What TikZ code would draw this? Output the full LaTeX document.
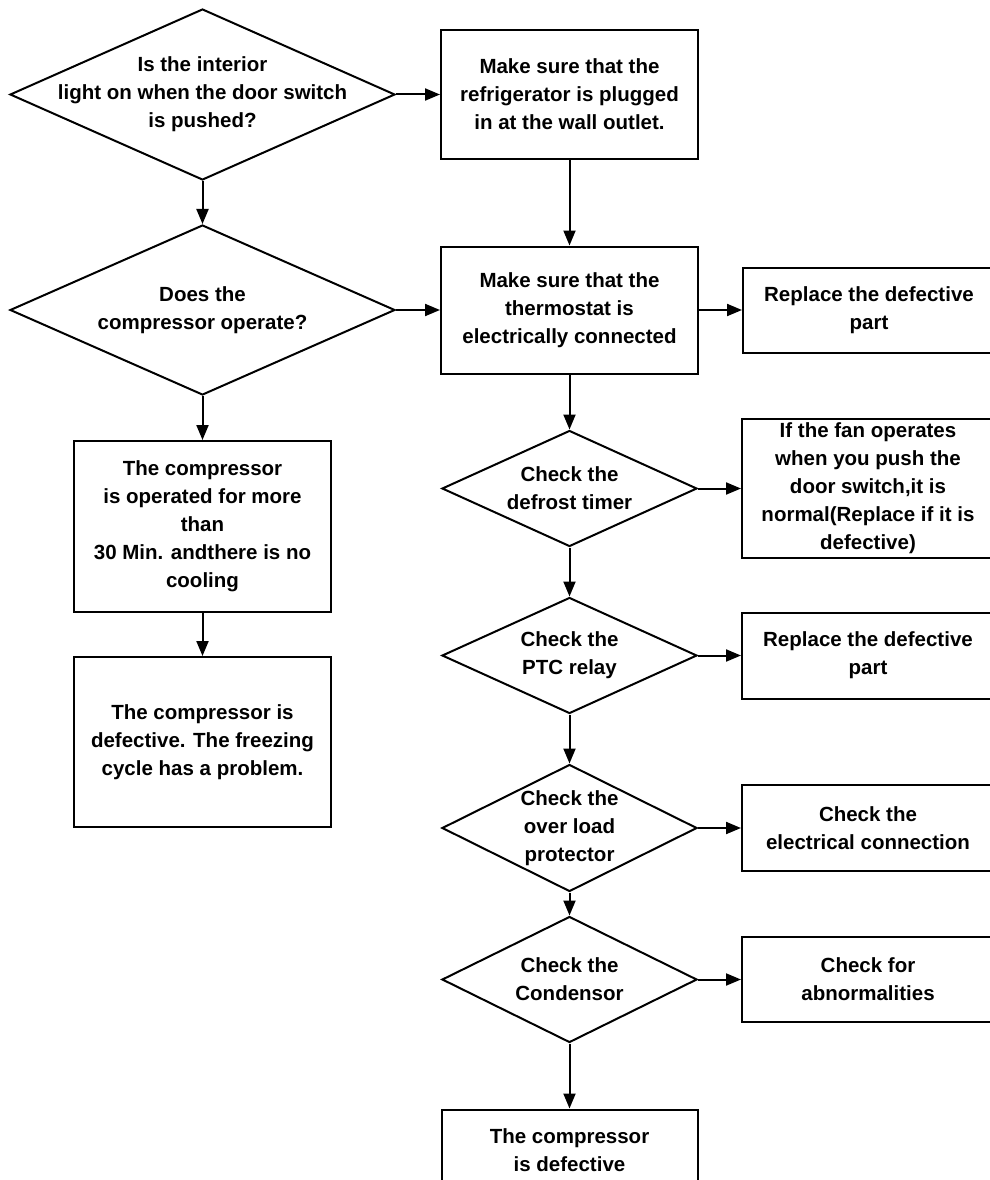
\documentclass[tikz,border=0pt]{standalone}
\usepackage{fontspec}
\setmainfont{Liberation Sans}
\usetikzlibrary{positioning,shapes.geometric,arrows.meta}

\tikzset{
  txt/.style={align=center, font=\bfseries\fontsize{20.5}{28}\selectfont},
  dia/.style={diamond, draw, line width=2pt, inner sep=0pt},
  box/.style={rectangle, draw, line width=2pt, inner sep=0pt, txt},
  arr/.style={line width=2pt, -{Triangle[length=15pt,width=12pt]}}
}

\begin{document}
\begin{tikzpicture}[x=1pt,y=-1pt]

  \useasboundingbox (0,0) rectangle (990,1180);

  \node[dia, minimum width=385pt, minimum height=171pt,
    label={[txt]center:{Is the interior\\light on when the door switch\\is pushed?}}]
    at (202.5,94.5) (light){};

  \node[box, right=44pt of light, minimum width=257pt, minimum height=128pt] (plug)
    {Make sure that the\\refrigerator is plugged\\in at the wall outlet.};

  \node[dia, below=43pt of light, minimum width=385pt, minimum height=170pt,
    label={[txt]center:{Does the\\compressor operate?}}] (comp_op){};

  \node[box, right=44pt of comp_op, minimum width=257pt, minimum height=127pt] (thermo)
    {Make sure that the\\thermostat is\\electrically connected};
  \node[box, right=43pt of thermo, minimum width=252pt, minimum height=85pt] (replace_1)
    {Replace the defective\\part};

  \node[box, below=44pt of comp_op, minimum width=257pt, minimum height=171pt] (cooling)
    {The compressor\\is operated for more\\than\\30 Min. andthere is no\\cooling};
  \node[box, below=43pt of cooling, minimum width=257pt, minimum height=170pt] (comp_def)
    {The compressor is\\defective. The freezing\\cycle has a problem.};

  \node[dia, below=55pt of thermo, minimum width=255pt, minimum height=116pt,
    label={[txt]center:{Check the\\defrost timer}}] (defrost){};
  \node[box, right=43pt of defrost, minimum width=252pt, minimum height=139pt] (fan)
    {If the fan operates\\when you push the\\door switch,it is\\normal(Replace if it is\\defective)};

  \node[dia, below=49pt of defrost, minimum width=255pt, minimum height=116pt,
    label={[txt]center:{Check the\\PTC relay}}] (ptc){};
  \node[box, right=43pt of ptc, minimum width=252pt, minimum height=86pt] (replace_2)
    {Replace the defective\\part};

  \node[dia, below=49pt of ptc, minimum width=255pt, minimum height=127pt,
    label={[txt]center:{Check the\\over load\\protector}}] (overload){};
  \node[box, right=43pt of overload, minimum width=252pt, minimum height=86pt] (elec)
    {Check the\\electrical connection};

  \node[dia, below=23pt of overload, minimum width=255pt, minimum height=126pt,
    label={[txt]center:{Check the\\Condensor}}] (condensor){};
  \node[box, right=43pt of condensor, minimum width=252pt, minimum height=85pt] (abnormal)
    {Check for\\abnormalities};

  \node[box, below=65pt of condensor, minimum width=256pt, minimum height=82pt] (comp_def_2)
    {The compressor\\is defective};

  \draw[arr] (light) -- (plug);
  \draw[arr] (light) -- (comp_op);
  \draw[arr] (plug) -- (thermo);
  \draw[arr] (comp_op) -- (thermo);
  \draw[arr] (thermo) -- (replace_1);
  \draw[arr] (comp_op) -- (cooling);
  \draw[arr] (cooling) -- (comp_def);
  \draw[arr] (thermo) -- (defrost);
  \draw[arr] (defrost) -- (fan);
  \draw[arr] (defrost) -- (ptc);
  \draw[arr] (ptc) -- (replace_2);
  \draw[arr] (ptc) -- (overload);
  \draw[arr] (overload) -- (elec);
  \draw[arr] (overload) -- (condensor);
  \draw[arr] (condensor) -- (abnormal);
  \draw[arr] (condensor) -- (comp_def_2);

\end{tikzpicture}
\end{document}
